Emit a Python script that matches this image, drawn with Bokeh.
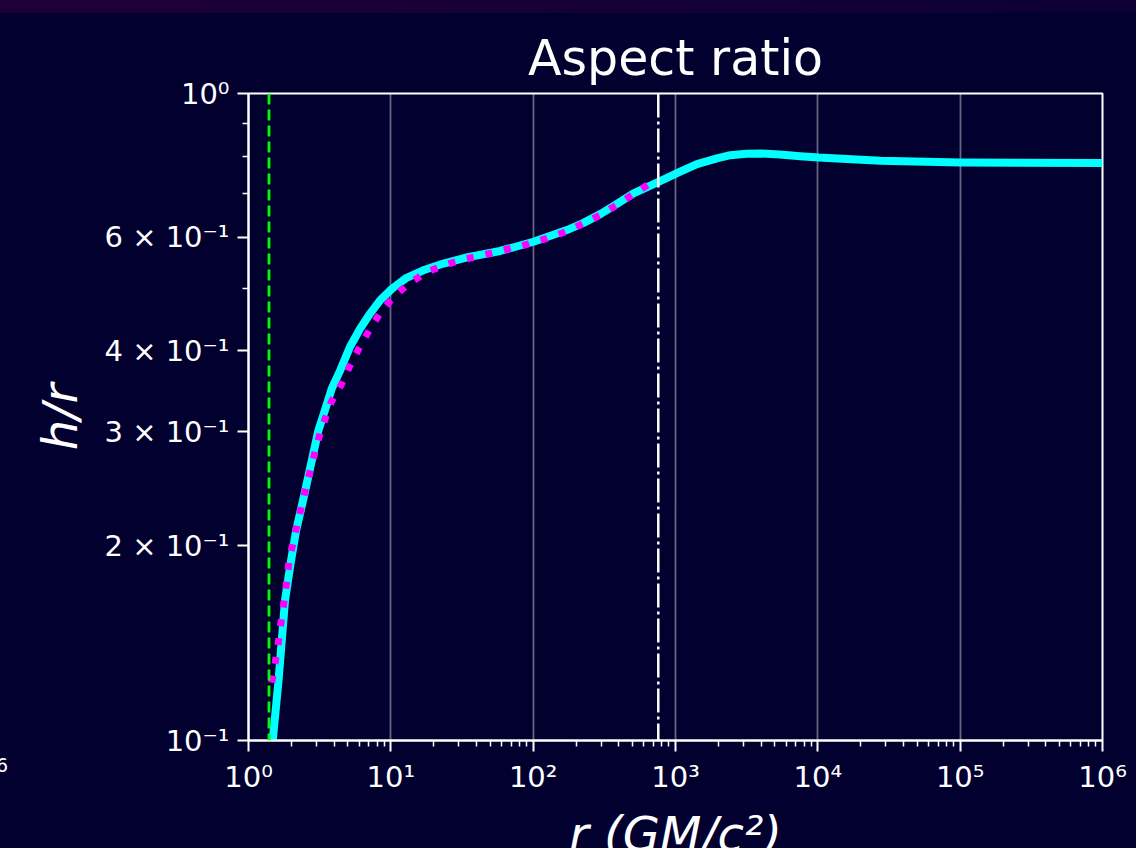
from bokeh.plotting import figure
from bokeh.models import (Range1d, FixedTicker, CustomJSTickFormatter, Span)
from bokeh.embed import file_html
from bokeh.resources import INLINE

# ---------------- data ----------------
r_model = [1.42, 1.48, 1.625, 1.806, 1.99, 2.16, 2.50, 3.08, 3.85, 4.40, 5.17, 6.08,
           7.15, 8.40, 10.16, 12.9, 16.9, 23.4, 34.2, 58.6, 100.5, 172.6, 226, 296,
           388, 507, 760, 1079, 1415, 1955, 2427, 3160, 4000, 5410, 7534, 10140,
           27500, 100000, 1000000]
h_model = [0.090, 0.100, 0.1236, 0.1648, 0.1897, 0.211, 0.243, 0.300, 0.350, 0.373,
           0.406, 0.433, 0.457, 0.479, 0.499, 0.519, 0.533, 0.546, 0.558, 0.571,
           0.590, 0.615, 0.631, 0.651, 0.675, 0.701, 0.730, 0.757, 0.778, 0.794,
           0.803, 0.8067, 0.8075, 0.805, 0.800, 0.796, 0.787, 0.782, 0.781]

r_fit = [1.456, 1.536, 1.62, 1.692, 1.776, 1.856, 1.927, 2.2, 2.6, 3.2, 3.8, 4.52,
         5.17, 6.08, 7.15, 8.54, 10.54, 13.65, 18.07, 24.7, 33.8, 46.7, 64.6, 89.3,
         121.5, 168, 226, 304, 402, 536, 709, 757]
h_fit = [0.1229, 0.1315, 0.1417, 0.1522, 0.1638, 0.176, 0.1897, 0.216, 0.252, 0.300,
         0.333, 0.356, 0.380, 0.4066, 0.433, 0.460, 0.486, 0.510, 0.530, 0.5445,
         0.555, 0.564, 0.574, 0.584, 0.596, 0.611, 0.630, 0.651, 0.676, 0.705,
         0.733, 0.737]

r_inner = 1.393     # green dashed vertical line
r_outer = 757       # white dash-dot vertical line

x_tick_values = [1, 10, 100, 1000, 10000, 100000, 1000000]
x_tick_labels = ["10⁰", "10¹", "10²", "10³", "10⁴", "10⁵", "10⁶"]
x_minor_values = [m * 10 ** k for k in range(6) for m in range(2, 10)]

y_tick_values = [0.1, 0.2, 0.3, 0.4, 0.6, 1.0]
y_tick_labels = ["10⁻¹", "2 × 10⁻¹", "3 × 10⁻¹", "4 × 10⁻¹", "6 × 10⁻¹", "10⁰"]
y_minor_values = [0.5, 0.7, 0.8, 0.9]

title_text = "Aspect ratio"
x_label_text = "r (GM/c²)"
y_label_text = "h/r"
edge_fragment_text = "6"   # cut-off tick label of a neighbouring panel at the left edge

# ---------------- styling ----------------
BG = "#01002f"
FONT = "DejaVu Sans"
TOP_STRIP = 13
WIN_H = 848
BOTTOM_BORDER = 140            # room for the x-axis label, cut by the window edge
FRAME_BOTTOM_GAP = 108         # distance from the frame bottom to the window edge

p = figure(width=1136, height=WIN_H - TOP_STRIP - FRAME_BOTTOM_GAP + BOTTOM_BORDER,
           output_backend="svg", toolbar_location=None,
           x_axis_type="log", y_axis_type="log",
           x_range=Range1d(1, 1e6), y_range=Range1d(0.1, 1.0),
           min_border_left=248, min_border_right=34, min_border_top=93 - TOP_STRIP,
           min_border_bottom=BOTTOM_BORDER)

p.background_fill_color = BG
p.border_fill_color = BG
p.outline_line_color = "white"
p.outline_line_width = 2

p.title.text = title_text
p.title.text_color = "white"
p.title.text_font = FONT
p.title.text_font_size = "49px"
p.title.text_font_style = "normal"
p.title.align = "center"
p.title.standoff = 14

fmt_code = """
let best = 0; let bd = Infinity;
for (let i = 0; i < vals.length; i++) {
  const d = Math.abs(Math.log10(tick) - Math.log10(vals[i]));
  if (d < bd) { bd = d; best = i; }
}
return labs[best];
"""

xa = p.xaxis[0]
xa.ticker = FixedTicker(ticks=x_tick_values, minor_ticks=x_minor_values)
xa.formatter = CustomJSTickFormatter(args=dict(vals=x_tick_values, labs=x_tick_labels), code=fmt_code)
ya = p.yaxis[0]
ya.ticker = FixedTicker(ticks=y_tick_values, minor_ticks=y_minor_values)
ya.formatter = CustomJSTickFormatter(args=dict(vals=y_tick_values, labs=y_tick_labels), code=fmt_code)

for ax in (xa, ya):
    ax.axis_line_color = "white"
    ax.axis_line_width = 2
    ax.major_tick_line_color = "white"
    ax.major_tick_line_width = 2
    ax.minor_tick_line_color = "white"
    ax.minor_tick_line_width = 1.5
    ax.major_tick_in = 0
    ax.major_tick_out = 11
    ax.minor_tick_in = 0
    ax.minor_tick_out = 6
    ax.major_label_text_color = "white"
    ax.major_label_text_font = FONT
    ax.major_label_text_font_size = "29px"
    ax.major_label_standoff = 8
    ax.axis_label_text_color = "white"
    ax.axis_label_text_font = FONT
    ax.axis_label_text_font_size = "48px"
    ax.axis_label_text_font_style = "italic"

ya.axis_label = y_label_text
ya.axis_label_standoff = 13
xa.axis_label = x_label_text
xa.axis_label_standoff = 9

p.xgrid.ticker = FixedTicker(ticks=x_tick_values)
p.xgrid.grid_line_color = "white"
p.xgrid.grid_line_alpha = 0.4
p.xgrid.grid_line_width = 1.8
p.ygrid.visible = False

p.add_layout(Span(location=r_inner, dimension="height", line_color="#00ff00",
                  line_width=2.8, line_dash="11 5"))
p.add_layout(Span(location=r_outer, dimension="height", line_color="white",
                  line_width=2.5, line_dash="24 4 3 4"))

p.line(r_model, h_model, line_color="#00ffff", line_width=8, line_join="round")
p.line(r_fit, h_fit, line_color="#ff00ff", line_width=7, line_dash="7 12",
       line_cap="butt")

html = file_html(p, INLINE, title="Aspect ratio")
style = ("<style>html{overflow:hidden !important;background:" + BG + " !important;}"
         "body{margin:0 !important;padding:" + str(TOP_STRIP) + "px 0 0 0 !important;"
         "height:" + str(WIN_H) + "px !important;overflow:hidden !important;"
         "position:relative;"
         "background:linear-gradient(to right,#1f0036,#0c0036) top left/100% "
         + str(TOP_STRIP) + "px no-repeat," + BG + " !important;}</style>")
html = html.replace("</head>", style + "</head>", 1)
fragment = ("<div style=\"position:absolute;left:-4px;top:754px;z-index:10;color:white;"
            "font:19px 'DejaVu Sans';\">" + edge_fragment_text + "</div>")
html = html.replace("</body>", fragment + "</body>", 1)
open("out.html", "w").write(html)
